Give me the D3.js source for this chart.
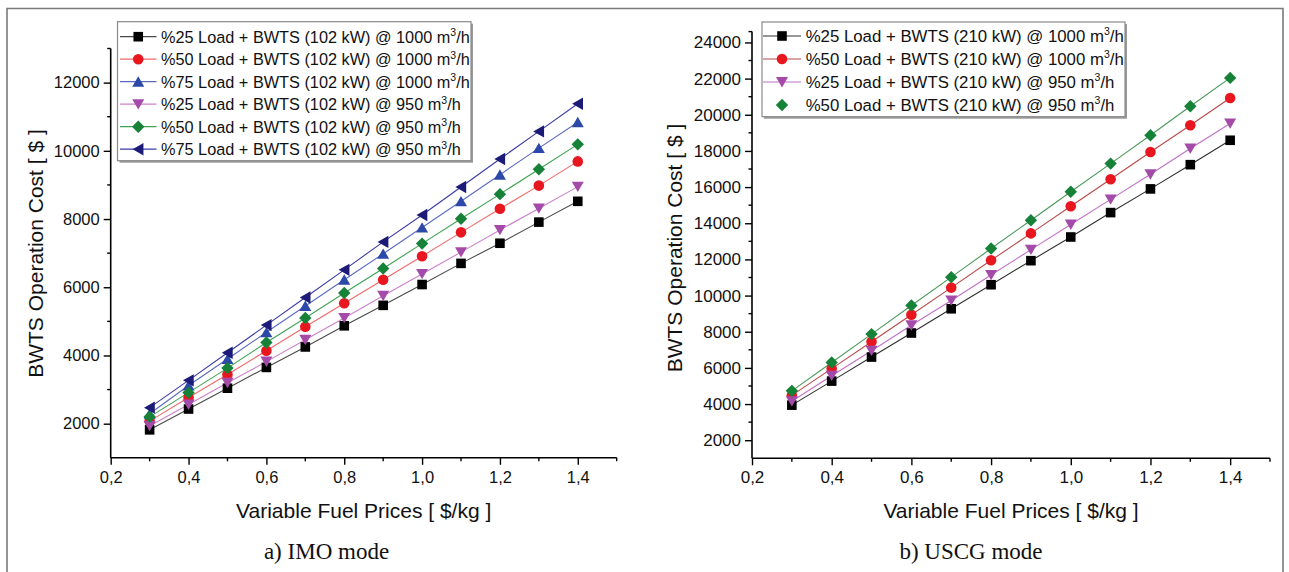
<!DOCTYPE html>
<html>
<head>
<meta charset="utf-8">
<script src="https://cdn.jsdelivr.net/npm/d3@7"></script>
<style>
  html, body { margin: 0; padding: 0; background: #fff; }
  svg { display: block; }
  text { font-family: "Liberation Sans", Arial, sans-serif; fill: #111; }
</style>
</head>
<body>
<svg id="chart" width="1289" height="572"></svg>
<script>
// ---------------- DATA ----------------
const fuelPrices = [0.3, 0.4, 0.5, 0.6, 0.7, 0.8, 0.9, 1.0, 1.1, 1.2, 1.3, 1.4];

// Panel a) IMO mode
const imoLabels = [
  ["%25 Load + BWTS (102 kW) @ 1000 m", "/h"],
  ["%50 Load + BWTS (102 kW) @ 1000 m", "/h"],
  ["%75 Load + BWTS (102 kW) @ 1000 m", "/h"],
  ["%25 Load + BWTS (102 kW) @ 950 m", "/h"],
  ["%50 Load + BWTS (102 kW) @ 950 m", "/h"],
  ["%75 Load + BWTS (102 kW) @ 950 m", "/h"]
];
const imo25_1000 = [1820, 2430, 3040, 3650, 4250, 4870, 5470, 6080, 6700, 7290, 7910, 8520];
const imo50_1000 = [2075, 2770, 3445, 4140, 4840, 5530, 6220, 6910, 7610, 8300, 8980, 9690];
const imo75_1000 = [2290, 3120, 3895, 4680, 5450, 6220, 6980, 7750, 8520, 9300, 10080, 10840];
const imo25_950  = [1935, 2560, 3200, 3820, 4460, 5100, 5750, 6390, 7030, 7680, 8310, 8950];
const imo50_950  = [2200, 2910, 3630, 4380, 5100, 5830, 6550, 7280, 8010, 8730, 9460, 10190];
const imo75_950  = [2470, 3270, 4080, 4890, 5700, 6510, 7330, 8120, 8940, 9760, 10570, 11380];

// Panel b) USCG mode
const uscgLabels = [
  ["%25 Load + BWTS (210 kW) @ 1000 m", "/h"],
  ["%50 Load + BWTS (210 kW) @ 1000 m", "/h"],
  ["%25 Load + BWTS (210 kW) @ 950 m", "/h"],
  ["%50 Load + BWTS (210 kW) @ 950 m", "/h"]
];
const uscg25_1000 = [3940, 5270, 6600, 7930, 9270, 10600, 11930, 13240, 14590, 15900, 17240, 18590];
const uscg50_1000 = [4480, 5960, 7450, 8940, 10440, 11950, 13440, 14940, 16430, 17940, 19420, 20930];
const uscg25_950  = [4160, 5570, 6950, 8360, 9730, 11140, 12540, 13930, 15320, 16710, 18130, 19520];
const uscg50_950  = [4730, 6300, 7870, 9450, 11020, 12600, 14170, 15740, 17300, 18870, 20470, 22040];

const xTickLabels = ["0,2", "0,4", "0,6", "0,8", "1,0", "1,2", "1,4"];
const xTickValues = [0.2, 0.4, 0.6, 0.8, 1.0, 1.2, 1.4];
const xMinorTicks = [0.3, 0.5, 0.7, 0.9, 1.1, 1.3, 1.5];
const imoYTicks = [2000, 4000, 6000, 8000, 10000, 12000];
const imoYMinor = [3000, 5000, 7000, 9000, 11000, 13000];
const uscgYTicks = [2000, 4000, 6000, 8000, 10000, 12000, 14000, 16000, 18000, 20000, 22000, 24000];
const uscgYMinor = [3000, 5000, 7000, 9000, 11000, 13000, 15000, 17000, 19000, 21000, 23000, 24600];

const yTitle = "BWTS Operation Cost [ $ ]";
const xTitle = "Variable Fuel Prices [ $/kg ]";
const captions = ["a) IMO mode", "b) USCG mode"];

// ---------------- STYLE ----------------
const markerStyles = {
  square:   { fill: "#000000", line: "#4a4a4a" },
  circle:   { fill: "#e8161e", line: "#f06a6a" },
  triUp:    { fill: "#2c48a8", line: "#5a6ac4" },
  triDown:  { fill: "#a44aa8", line: "#cc80cc" },
  diamond:  { fill: "#168238", line: "#3fa354" },
  triLeft:  { fill: "#1c1c78", line: "#3a3aa6" }
};

function markerPath(type) {
  switch (type) {
    case "square":  return "M-4.8,-4.8H4.8V4.8H-4.8Z";
    case "circle":  return d3.symbol(d3.symbolCircle, 88)();
    case "triUp":   return "M0,-5.4L6,5H-6Z";
    case "triDown": return "M0,5.4L6,-5H-6Z";
    case "diamond": return "M0,-6.2L6.2,0L0,6.2L-6.2,0Z";
    case "triLeft": return "M-5.6,0L5.2,-6.2V6.2Z";
  }
}

const svg = d3.select("#chart");

// outer frame
svg.append("path")
  .attr("d", "M7,575V8.5H1283V575")
  .attr("fill", "none").attr("stroke", "#7a7a7a").attr("stroke-width", 1.6);

function drawPanel(cfg) {
  const g = svg.append("g");
  const x = d3.scaleLinear().domain([0.2, 1.5]).range(cfg.xRange);
  const y = d3.scaleLinear().domain(cfg.yDomain).range(cfg.yRange);

  // y axis
  const yAxis = d3.axisLeft(y).tickValues(cfg.yTicks).tickSize(7).tickPadding(4)
    .tickFormat(d3.format("d"));
  const ya = g.append("g").attr("transform", `translate(${cfg.xRange[0]},0)`).call(yAxis);
  ya.select(".domain").attr("d", `M0,${cfg.yRange[0]}V${cfg.yRange[1]}`);
  ya.selectAll(".minor").data(cfg.yMinor).enter().append("line")
    .attr("x1", 0).attr("x2", -3.5).attr("y1", d => y(d)).attr("y2", d => y(d))
    .attr("stroke", "#000").attr("stroke-width", 1.4);

  // x axis
  const xAxis = d3.axisBottom(x).tickValues(xTickValues).tickSize(7).tickPadding(6)
    .tickFormat((d, i) => xTickLabels[i]);
  const xa = g.append("g").attr("transform", `translate(0,${cfg.yRange[0]})`).call(xAxis);
  xa.select(".domain").attr("d", `M${cfg.xRange[0]},0H${cfg.xRange[1]}`);
  xa.selectAll(".minor").data(xMinorTicks).enter().append("line")
    .attr("x1", d => x(d)).attr("x2", d => x(d)).attr("y1", 0).attr("y2", 3.5)
    .attr("stroke", "#000").attr("stroke-width", 1.4);

  [ya, xa].forEach(a => {
    a.selectAll(".domain").attr("stroke", "#000").attr("stroke-width", 1.6);
    a.selectAll(".tick line").attr("stroke", "#000").attr("stroke-width", 1.4);
    a.selectAll(".tick text").style("font-family", "'Liberation Sans', Arial, sans-serif")
      .style("font-size", cfg.tickFont + "px").attr("fill", "#111");
  });

  // titles
  g.append("text")
    .attr("transform", `translate(${cfg.yTitleX},${cfg.yTitleY}) rotate(-90)`)
    .attr("text-anchor", "middle").style("font-size", "21px").text(yTitle);
  g.append("text")
    .attr("x", (cfg.xRange[0] + cfg.xRange[1]) / 2).attr("y", 518)
    .attr("text-anchor", "middle").style("font-size", "21px").text(xTitle);
  g.append("text")
    .attr("x", cfg.captionX).attr("y", 559).attr("text-anchor", "middle")
    .style("font-family", "'Liberation Serif', 'Times New Roman', serif")
    .style("font-size", "23px").text(cfg.caption);

  // series lines + markers
  const line = d3.line().x((d, i) => x(fuelPrices[i])).y(d => y(d));
  cfg.series.forEach(s => {
    g.append("path").datum(s.values).attr("d", line)
      .attr("fill", "none").attr("stroke", s.lineColor || markerStyles[s.marker].line)
      .attr("stroke-width", 1.1);
  });
  cfg.series.forEach(s => {
    g.selectAll(null).data(s.values).enter().append("path")
      .attr("d", markerPath(s.marker))
      .attr("transform", (d, i) => `translate(${x(fuelPrices[i])},${y(d)})`)
      .attr("fill", markerStyles[s.marker].fill);
  });

  // legend
  const L = cfg.legend;
  const lg = g.append("g");
  lg.append("rect").attr("x", L.x + 2).attr("y", L.y + 2).attr("width", L.w).attr("height", L.h)
    .attr("fill", "#9a9a9a");
  lg.append("rect").attr("x", L.x).attr("y", L.y).attr("width", L.w).attr("height", L.h)
    .attr("fill", "#fff").attr("stroke", "#8a8a8a").attr("stroke-width", 1.2);
  cfg.series.forEach((s, i) => {
    const cy = L.row0 + i * L.rowGap;
    if (!s.noLegendLine) {
      lg.append("line").attr("x1", L.lineX1).attr("x2", L.lineX2).attr("y1", cy).attr("y2", cy)
        .attr("stroke", s.lineColor || markerStyles[s.marker].line).attr("stroke-width", 1.2);
    }
    lg.append("path").attr("d", markerPath(s.marker))
      .attr("transform", `translate(${(L.lineX1 + L.lineX2) / 2},${cy})`)
      .attr("fill", markerStyles[s.marker].fill);
    const t = lg.append("text").attr("x", L.textX).attr("y", cy + 5.8).style("font-size", L.font + "px");
    t.append("tspan").text(s.label[0]);
    t.append("tspan").attr("dy", -6.5).style("font-size", "10.5px").text("3");
    t.append("tspan").attr("dy", 6.5).text(s.label[1]);
  });
}

drawPanel({
  xRange: [110.7, 616.7],
  yDomain: [1000, 13000], yRange: [457.8, 48.5],
  yTicks: imoYTicks, yMinor: imoYMinor, tickFont: 16.5,
  yTitleX: 42.5, yTitleY: 253.5, captionX: 326.5, caption: captions[0],
  series: [
    { values: imo25_1000, marker: "square",  label: imoLabels[0] },
    { values: imo50_1000, marker: "circle",  label: imoLabels[1] },
    { values: imo75_1000, marker: "triUp",   label: imoLabels[2] },
    { values: imo25_950,  marker: "triDown", label: imoLabels[3] },
    { values: imo50_950,  marker: "diamond", label: imoLabels[4] },
    { values: imo75_950,  marker: "triLeft", label: imoLabels[5] }
  ],
  legend: { x: 117.5, y: 21.7, w: 353.5, h: 139, row0: 36.7, rowGap: 22.5,
            lineX1: 120, lineX2: 156.5, textX: 161, font: 16.3 }
});

drawPanel({
  xRange: [752, 1270],
  yDomain: [1000, 24600], yRange: [458.3, 31.6],
  yTicks: uscgYTicks, yMinor: uscgYMinor, tickFont: 17,
  yTitleX: 682, yTitleY: 248, captionX: 971, caption: captions[1],
  series: [
    { values: uscg25_1000, marker: "square",  label: uscgLabels[0], lineColor: "#303030" },
    { values: uscg50_1000, marker: "circle",  label: uscgLabels[1], lineColor: "#b84a4a" },
    { values: uscg25_950,  marker: "triDown", label: uscgLabels[2], lineColor: "#c070c8" },
    { values: uscg50_950,  marker: "diamond", label: uscgLabels[3], lineColor: "#4a9a5a", noLegendLine: true }
  ],
  legend: { x: 762, y: 22, w: 363, h: 94.7, row0: 36, rowGap: 23,
            lineX1: 763, lineX2: 801, textX: 805.7, font: 16.8 }
});
</script>
</body>
</html>
